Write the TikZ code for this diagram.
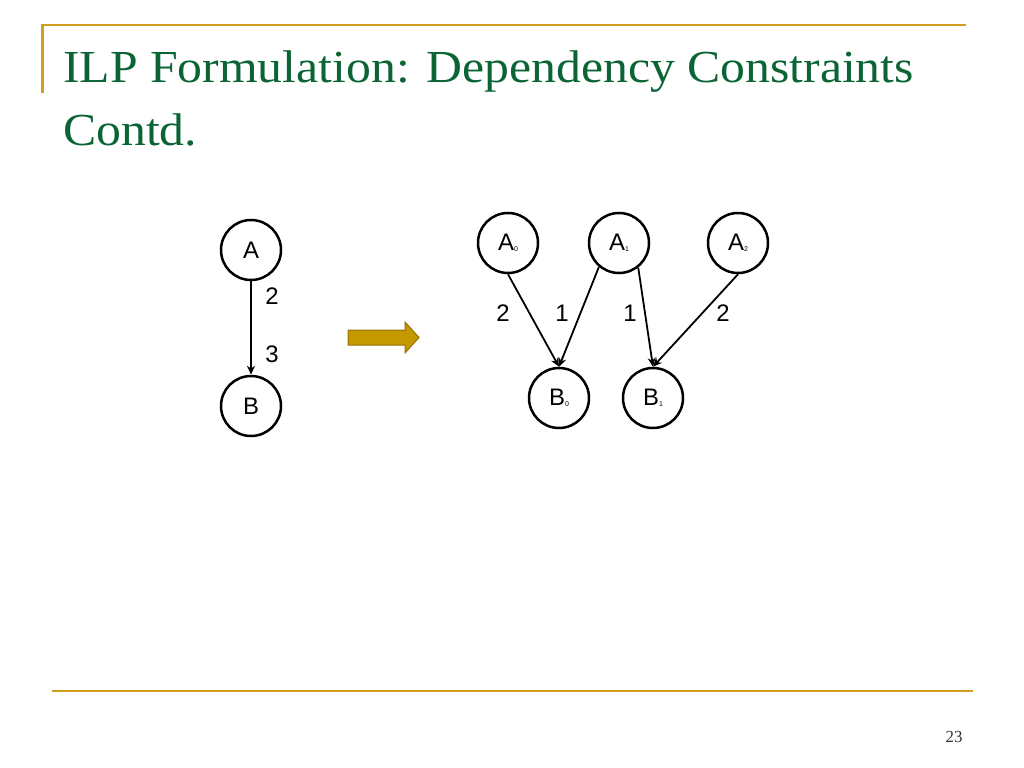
\documentclass[tikz,border=0pt]{standalone}
\usepackage{fontspec}
\setmainfont{Liberation Serif}
\newfontfamily\arialfont{Liberation Sans}
\newfontfamily\titlefont[FakeStretch=1.085]{Liberation Serif}
\usepackage{xcolor}
\usepackage{tikz}
\usetikzlibrary{arrows.meta, positioning}
\definecolor{slidegold}{RGB}{210,160,30}
\definecolor{slidegreen}{RGB}{10,100,52}
\definecolor{blockfill}{RGB}{196,152,0}
\definecolor{blockedge}{RGB}{150,112,0}
\newcommand{\sub}[1]{\raisebox{-1bp}{\fontsize{7}{8}\selectfont #1}}
\tikzset{
    vertex/.style={circle, draw=black, line width=2.5bp, minimum size=60bp, inner sep=0pt, font=\arialfont\fontsize{24}{28}\selectfont},
    weight/.style={font=\arialfont\fontsize{24}{28}\selectfont, inner sep=0pt},
    dep/.style={line width=1.8bp, -{Stealth[length=9bp, width=8bp]}},
    rule/.style={draw=slidegold, line width=2.5bp},
    headline/.style={anchor=base west, text=slidegreen, inner sep=0pt, font=\titlefont\fontsize{46}{62}\selectfont}
}
\begin{document}
\begin{tikzpicture}[x=1bp, y=-1bp]
    \useasboundingbox (0,0) rectangle (1024,768);
    % slide frame
    \draw[rule] (42.5,93) -- (42.5,25) -- (966,25);
    \draw[rule] (52,691) -- (973,691);
    \node[headline] (title) at (63,83) {ILP Formulation: Dependency Constraints};
    \node[headline] (titlecont) at (63,145) {Contd.};
    \node[text=black!80, font=\fontsize{17}{20}\selectfont] (pageno) at (954,737) {23};
    % original graph
    \node[vertex] (A) at (251,250) {A};
    \node[vertex] (B) at (251,406) {B};
    \draw[dep] (A.south) -- (B.north);
    \node[weight] (wa) at (272,296) {2};
    \node[weight] (wb) at (272,354) {3};
    % block arrow
    \fill[blockfill, draw=blockedge, line width=1bp] (348,330) -- (405,330) -- (405,322) -- (419,337.5) -- (405,353) -- (405,345) -- (348,345) -- cycle;
    % unrolled graph
    \node[vertex] (A0) at (508,243) {A\sub{0}};
    \node[vertex] (A1) at (619,243) {A\sub{1}};
    \node[vertex] (A2) at (738,243) {A\sub{2}};
    \node[vertex] (B0) at (559,398) {B\sub{0}};
    \node[vertex] (B1) at (653,398) {B\sub{1}};
    \draw[dep] (A0.south) -- (B0.north);
    \draw[dep] (A1.-130) -- (B0.north);
    \draw[dep] (A1.-52) -- (B1.north);
    \draw[dep] (A2.south) -- (B1.north);
    \node[weight] (w00) at (503,313) {2};
    \node[weight] (w10) at (562,313) {1};
    \node[weight] (w11) at (630,313) {1};
    \node[weight] (w21) at (723,313) {2};
\end{tikzpicture}
\end{document}
